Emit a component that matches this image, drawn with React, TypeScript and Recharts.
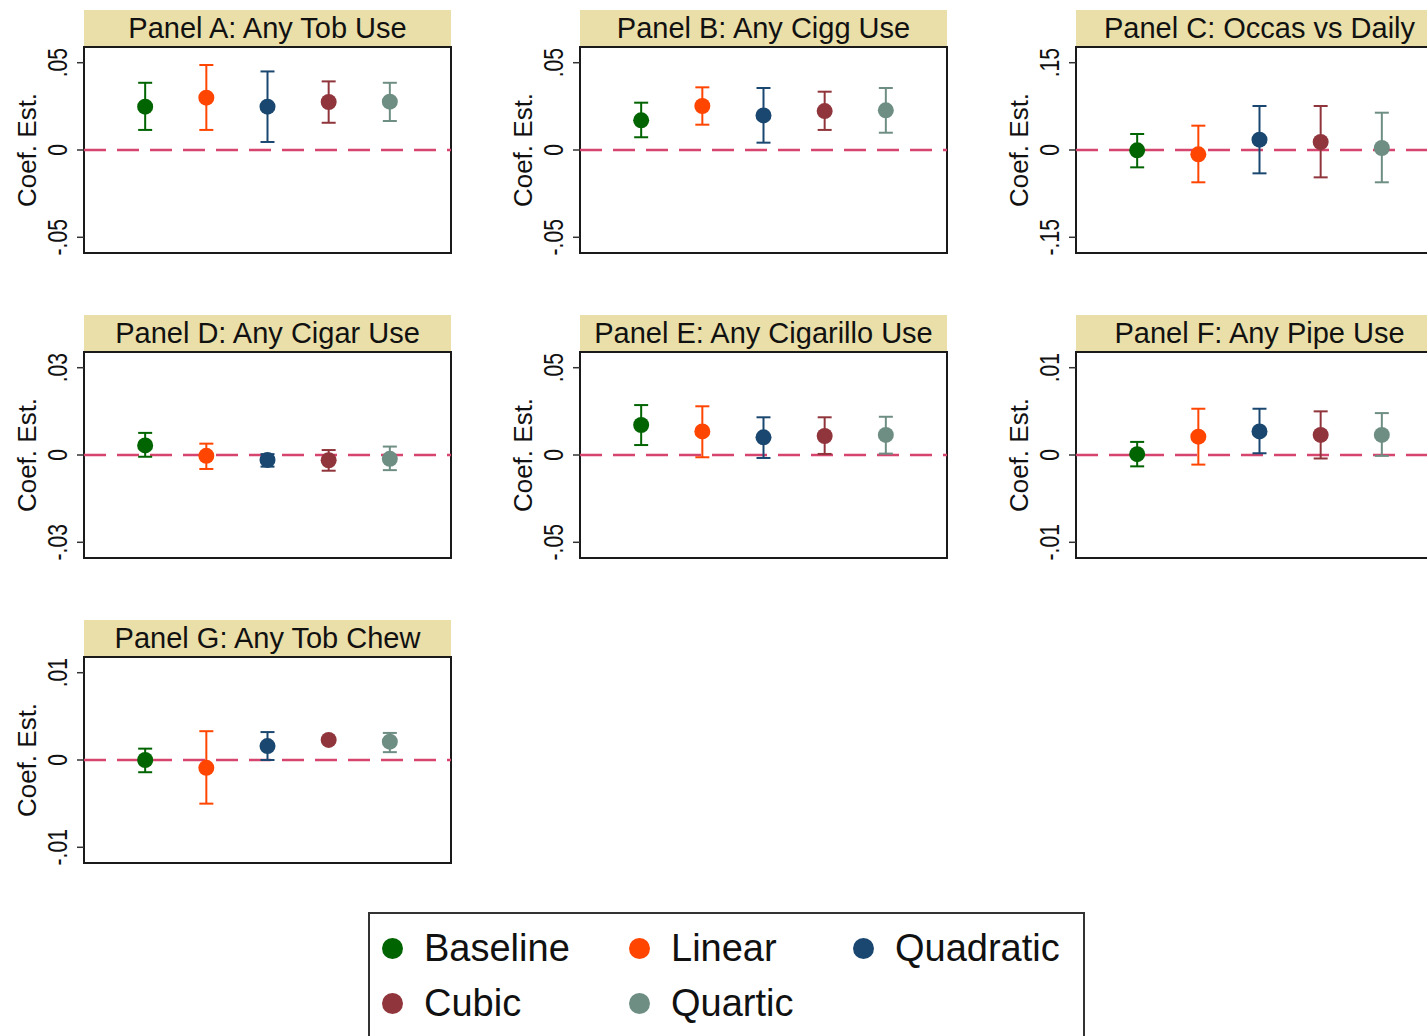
import React from 'react';
import { ScatterChart, Scatter, XAxis, YAxis, ErrorBar, ReferenceLine, ReferenceArea } from 'recharts';

// series (one dot + CI per panel)
const seriesNames = ['Baseline', 'Linear', 'Quadratic', 'Cubic', 'Quartic'];
const seriesColors = ['#006400', '#FF4500', '#1A476F', '#90353B', '#6E8E84'];

const panelTitles = [
  'Panel A: Any Tob Use',
  'Panel B: Any Cigg Use',
  'Panel C: Occas vs Daily',
  'Panel D: Any Cigar Use',
  'Panel E: Any Cigarillo Use',
  'Panel F: Any Pipe Use',
  'Panel G: Any Tob Chew',
];
const tickSteps = [0.05, 0.05, 0.15, 0.03, 0.05, 0.01, 0.01];

// point estimates and CI bounds
const anyTobCoef = [0.0248, 0.030, 0.0248, 0.0275, 0.0277];
const anyTobLow = [0.0115, 0.0115, 0.0046, 0.0156, 0.0166];
const anyTobHigh = [0.0385, 0.0487, 0.045, 0.0393, 0.0385];

const anyCiggCoef = [0.017, 0.0252, 0.0198, 0.0223, 0.0227];
const anyCiggLow = [0.0073, 0.0145, 0.0042, 0.0115, 0.0099];
const anyCiggHigh = [0.0271, 0.0359, 0.0355, 0.0334, 0.0355];

const occasCoef = [-0.0006, -0.0074, 0.0177, 0.0137, 0.0034];
const occasLow = [-0.0298, -0.0555, -0.0401, -0.047, -0.0555];
const occasHigh = [0.0275, 0.0418, 0.0756, 0.0756, 0.0641];

const cigarCoef = [0.0033, -0.0003, -0.0017, -0.0018, -0.0013];
const cigarLow = [-0.0006, -0.0048, -0.004, -0.0054, -0.0052];
const cigarHigh = [0.0076, 0.0039, 0.0003, 0.0017, 0.0029];

const cigarilloCoef = [0.0172, 0.0135, 0.0101, 0.0109, 0.0115];
const cigarilloLow = [0.0057, -0.0013, -0.0017, 0.0006, 0.0008];
const cigarilloHigh = [0.0286, 0.0279, 0.0216, 0.0216, 0.0219];

const pipeCoef = [0.0001, 0.0021, 0.0027, 0.0023, 0.0023];
const pipeLow = [-0.0013, -0.0011, 0.0002, -0.0004, -0.0001];
const pipeHigh = [0.0015, 0.0053, 0.0053, 0.005, 0.0048];

const chewCoef = [0, -0.0009, 0.0016, 0.0023, 0.0021];
const chewLow = [-0.0014, -0.005, 0.0, 0.0022, 0.0009];
const chewHigh = [0.0013, 0.0033, 0.0032, 0.0024, 0.0031];

const panels = [
  { coef: anyTobCoef, lo: anyTobLow, hi: anyTobHigh },
  { coef: anyCiggCoef, lo: anyCiggLow, hi: anyCiggHigh },
  { coef: occasCoef, lo: occasLow, hi: occasHigh },
  { coef: cigarCoef, lo: cigarLow, hi: cigarHigh },
  { coef: cigarilloCoef, lo: cigarilloLow, hi: cigarilloHigh },
  { coef: pipeCoef, lo: pipeLow, hi: pipeHigh },
  { coef: chewCoef, lo: chewLow, hi: chewHigh },
].map((p, i) => ({ ...p, title: panelTitles[i], step: tickSteps[i] }));

const FONT = '"Liberation Sans", Arial, Helvetica, sans-serif';
const PLOT_W = 367;
const PLOT_H = 206;
const AXIS_W = 84;
const colLeft = [84, 580, 1076];
const rowTop = [47, 352, 657];

// stata style: .05, 0, -.05
const fmt = (v: number) => {
  if (Math.abs(v) < 1e-9) return '0';
  const s = Math.abs(v).toFixed(2).replace(/^0/, '');
  return v < 0 ? '-' + s : s;
};

const RotTick = (props: any) => {
  const { x, y, payload } = props;
  return (
    <text
      transform={`translate(${x},${y}) rotate(-90) scale(0.78,1)`}
      textAnchor="middle"
      fontSize={27}
      fontFamily={FONT}
      fill="#111"
    >
      {fmt(payload.value)}
    </text>
  );
};

const Panel = ({ p, left, top }: { p: any; left: number; top: number }) => {
  const lim = p.step * 1.18;
  const pts = seriesNames.map((name, i) => ({
    x: i + 1,
    y: p.coef[i],
    err: [p.coef[i] - p.lo[i], p.hi[i] - p.coef[i]],
  }));

  return (
    <>
      <div
        style={{
          position: 'absolute',
          left,
          top: top - 37,
          width: PLOT_W,
          height: 36,
          background: '#EADFA8',
          color: '#111',
          fontSize: 29,
          lineHeight: '36px',
          textAlign: 'center',
          whiteSpace: 'nowrap',
        }}
      >
        {p.title}
      </div>
      <div
        style={{
          position: 'absolute',
          left: left - 57,
          top: top + PLOT_H / 2,
          transform: 'translate(-50%, -50%) rotate(-90deg)',
          fontSize: 26,
          lineHeight: 1,
          color: '#111',
          whiteSpace: 'nowrap',
        }}
      >
        Coef. Est.
      </div>
      <div style={{ position: 'absolute', left: left - AXIS_W, top: top - 2 }}>
        <ScatterChart
          width={AXIS_W + PLOT_W + 4}
          height={PLOT_H + 4}
          margin={{ top: 2, right: 4, bottom: 2, left: 0 }}
        >
          <XAxis type="number" dataKey="x" domain={[0, 6]} hide />
          <YAxis
            type="number"
            dataKey="y"
            domain={[-lim, lim]}
            ticks={[-p.step, 0, p.step]}
            width={AXIS_W}
            axisLine={false}
            tickLine={{ stroke: '#333', strokeWidth: 1.5 }}
            tickSize={7}
            tickMargin={10}
            tick={<RotTick />}
            allowDataOverflow
          />
          <ReferenceLine y={0} stroke="#D6456E" strokeWidth={2.5} strokeDasharray="22 11" />
          {seriesNames.map((name, i) => (
            <Scatter
              key={name}
              name={name}
              data={[pts[i]]}
              fill={seriesColors[i]}
              isAnimationActive={false}
              shape={(s: any) => <circle cx={s.cx} cy={s.cy} r={8} fill={seriesColors[i]} />}
            >
              <ErrorBar dataKey="err" direction="y" width={7} stroke={seriesColors[i]} strokeWidth={2} />
            </Scatter>
          ))}
          <ReferenceArea x1={0} x2={6} y1={-lim} y2={lim} fill="none" stroke="#1a1a1a" strokeWidth={2} />
        </ScatterChart>
      </div>
    </>
  );
};

const legendCols = [24, 271, 495];
const legendRows = [36, 91];

export default function App() {
  return (
    <div
      style={{
        position: 'fixed',
        left: 0,
        top: 0,
        width: 1427,
        height: 1036,
        overflow: 'hidden',
        background: '#fff',
        fontFamily: FONT,
      }}
    >
      {panels.map((p, i) => (
        <Panel key={p.title} p={p} left={colLeft[i % 3]} top={rowTop[Math.floor(i / 3)]} />
      ))}

      {/* shared legend */}
      <div
        style={{
          position: 'absolute',
          left: 368,
          top: 912,
          width: 717,
          height: 130,
          border: '2px solid #333',
          boxSizing: 'border-box',
        }}
      >
        {seriesNames.map((name, i) => {
          const cx = legendCols[i % 3];
          const cy = legendRows[Math.floor(i / 3)];
          return (
            <React.Fragment key={name}>
              <div
                style={{
                  position: 'absolute',
                  left: cx - 2 - 10.5,
                  top: cy - 2 - 10.5,
                  width: 21,
                  height: 21,
                  borderRadius: '50%',
                  background: seriesColors[i],
                }}
              />
              <div
                style={{
                  position: 'absolute',
                  left: cx - 2 + 32,
                  top: cy - 2 - 22,
                  fontSize: 38,
                  lineHeight: '44px',
                  color: '#111',
                  whiteSpace: 'nowrap',
                }}
              >
                {name}
              </div>
            </React.Fragment>
          );
        })}
      </div>
    </div>
  );
}
